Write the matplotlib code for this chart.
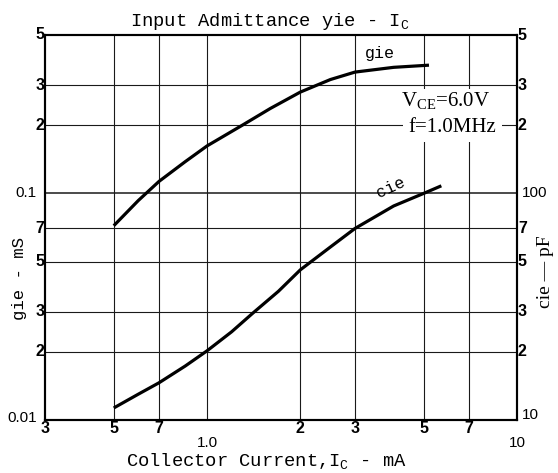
import matplotlib
matplotlib.use("Agg")
import matplotlib.pyplot as plt
import matplotlib.transforms as mtransforms

plt.rcParams['mathtext.fontset'] = 'custom'
plt.rcParams['mathtext.rm'] = 'Liberation Mono'
plt.rcParams['mathtext.sf'] = 'Liberation Serif'

# ---- data ----
gie_ic = [0.5, 0.6, 0.7, 0.85, 1.0, 1.3, 1.6, 2.0, 2.5, 3.0, 4.0, 5.2]
gie_ms = [0.072, 0.093, 0.113, 0.138, 0.162, 0.200, 0.237, 0.280, 0.318, 0.343, 0.360, 0.368]

cie_ic = [0.5, 0.6, 0.7, 0.85, 1.0, 1.2, 1.4, 1.7, 2.0, 2.5, 3.0, 4.0, 5.0, 5.7]
cie_pf = [11.3, 13.0, 14.6, 17.3, 20.2, 24.5, 29.5, 37.0, 46.0, 58.0, 70.0, 88.0, 100.0, 108.0]

x_ticks = [0.3, 0.5, 0.7, 1.0, 2, 3, 5, 7, 10]
x_labels = ["3", "5", "7", "1.0", "2", "3", "5", "7", "10"]
y_ticks = [0.5, 0.3, 0.2, 0.1, 0.07, 0.05, 0.03, 0.02, 0.01]
y_labels = ["5", "3", "2", "0.1", "7", "5", "3", "2", "0.01"]
y2_ticks = [500, 300, 200, 100, 70, 50, 30, 20, 10]
y2_labels = ["5", "3", "2", "100", "7", "5", "3", "2", "10"]

W, H = 558, 473
fig = plt.figure(figsize=(W / 100, H / 100), dpi=100)
ax = fig.add_axes([45 / W, 1 - 420 / H, 472 / W, 385 / H])
ax.set_xscale('log')
ax.set_yscale('log')
ax.set_xlim(0.3, 10)
ax.set_ylim(0.01, 0.5)
ax2 = ax.twinx()
ax2.set_yscale('log')
ax2.set_ylim(10, 500)

for a in (ax, ax2):
    a.set_xticks([])
    a.set_yticks([])
    a.minorticks_off()
    for s in a.spines.values():
        s.set_linewidth(1.5)
        s.set_color('black')
ax.set_xticks([], minor=True)
ax.set_yticks([], minor=True)
ax2.set_yticks([], minor=True)

# grid
for yv in y_ticks[1:-1]:
    lw = 1.1 if yv == 0.1 else 0.8
    ax.axhline(yv, color='#1a1a1a', lw=lw, zorder=1)
for xv in x_ticks[1:-1]:
    ax.axvline(xv, color='#1a1a1a', lw=0.8, zorder=1)

# curves
ax.plot(gie_ic, gie_ms, color='black', lw=2.3, zorder=3, solid_capstyle='butt')
ax2.plot(cie_ic, cie_pf, color='black', lw=2.3, zorder=3, solid_capstyle='butt')

# tick labels
tx = mtransforms.blended_transform_factory(ax.transData, ax.transAxes)
for xv, lab in zip(x_ticks, x_labels):
    if lab in ("1.0", "10"):
        ax.text(xv, -0.06, lab, transform=tx, ha='center', va='center',
                fontsize=11, family='Liberation Sans')
    else:
        ax.text(xv, -0.022, lab, transform=tx, ha='center', va='center',
                fontsize=11.5, family='Liberation Sans', weight='bold')

ty = mtransforms.blended_transform_factory(ax.transAxes, ax.transData)
for yv, lab in zip(y_ticks, y_labels):
    if '.' in lab:
        ax.text(-0.018, yv * (1.02 if lab == "0.01" else 1.0), lab, transform=ty,
                ha='right', va='center', fontsize=11, family='Liberation Sans')
    else:
        ax.text(-0.001, yv, lab, transform=ty, ha='right', va='center',
                fontsize=11.5, family='Liberation Sans', weight='bold')

ty2 = mtransforms.blended_transform_factory(ax2.transAxes, ax2.transData)
for yv, lab in zip(y2_ticks, y2_labels):
    if len(lab) > 1:
        ax2.text(1.01, yv * (1.05 if lab == "10" else 1.0), lab, transform=ty2,
                 ha='left', va='center', fontsize=11, family='Liberation Sans')
    else:
        ax2.text(1.002, yv, lab, transform=ty2, ha='left', va='center',
                 fontsize=11.5, family='Liberation Sans', weight='bold')

# curve labels
fig.text(380 / W, 1 - 53 / H, "gie", family='Liberation Mono', fontsize=12,
         ha='center', va='center')
fig.text(391 / W, 1 - 188 / H, "cie", family='Liberation Mono', fontsize=12,
         ha='center', va='center', rotation=25)

# condition text
fig.text(446 / W, 1 - 101 / H, r"V$_\mathsf{CE}$=6.0V", family='Liberation Serif',
         fontsize=15, ha='center', va='center',
         bbox=dict(facecolor='white', edgecolor='none', pad=1))
fig.text(452 / W, 1 - 127 / H, "f=1.0MHz", family='Liberation Serif',
         fontsize=15, ha='center', va='center',
         bbox=dict(facecolor='white', edgecolor='none', pad=4))

# titles and axis labels
fig.text(270 / W, 1 - 22 / H, r"Input Admittance yie - I$_\mathrm{C}$",
         family='Liberation Mono', fontsize=13.5, ha='center', va='center')
fig.text(266 / W, 1 - 462 / H, r"Collector Current,I$_\mathrm{C}$ - mA",
         family='Liberation Mono', fontsize=13.5, ha='center', va='center')
fig.text(20 / W, 1 - 278 / H, "gie - mS", family='Liberation Mono', fontsize=12.5,
         ha='center', va='center', rotation=90)
fig.text(545 / W, 1 - 272 / H, "cie — pF", family='Liberation Serif', fontsize=14,
         ha='center', va='center', rotation=90)

fig.savefig("out.png", dpi=100)
